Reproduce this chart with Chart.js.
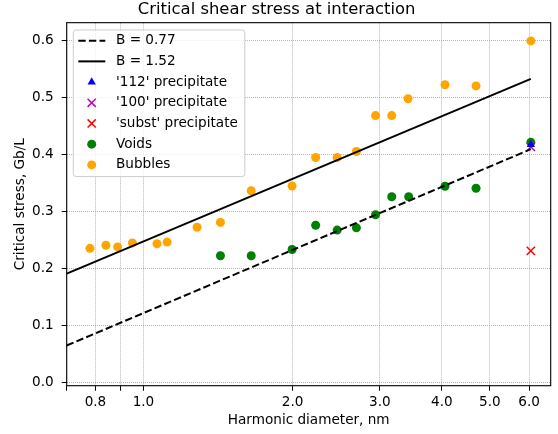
<!DOCTYPE html>
<html>
<head>
<meta charset="utf-8">
<script src="https://cdn.jsdelivr.net/npm/chart.js@4.4.1/dist/chart.umd.min.js"></script>
<style>
  html, body { margin: 0; padding: 0; background: #fff; }
  canvas { display: block; }
</style>
</head>
<body>
<canvas id="stressChart" width="558" height="434"></canvas>
<script>
// harmonic diameter (nm) and critical stress (Gb/L)
const bubbleDiam   = [0.78, 0.84, 0.887, 0.95, 1.065, 1.116, 1.283, 1.43, 1.65, 1.995, 2.226, 2.46, 2.69, 2.94, 3.17, 3.42, 4.06, 4.69, 6.05];
const bubbleStress = [0.236, 0.2415, 0.2385, 0.2455, 0.244, 0.247, 0.273, 0.2815, 0.337, 0.3455, 0.3955, 0.3955, 0.406, 0.469, 0.469, 0.4985, 0.523, 0.521, 0.600];

const voidDiam   = [1.43, 1.65, 1.995, 2.226, 2.46, 2.69, 2.94, 3.17, 3.43, 4.06, 4.69, 6.05];
const voidStress = [0.223, 0.223, 0.234, 0.2765, 0.268, 0.272, 0.295, 0.3265, 0.3265, 0.345, 0.3415, 0.422];

const p112Diam = [6.05],  p112Stress = [0.418];
const p100Diam = [6.05],  p100Stress = [0.414];
const substDiam = [6.05], substStress = [0.2315];

// fitted lines, B = 0.77 (dashed) and B = 1.52 (solid)
const lineDiam = [0.7, 6.05];
const dashedStress = [0.0655, 0.410];
const solidStress = [0.1917, 0.5335];

const xTicks = [0.7, 0.8, 0.9, 1, 2, 3, 4, 5, 6];
const xLabelled = [0.8, 1, 2, 3, 4, 5, 6];
const yTicks = [0, 0.1, 0.2, 0.3, 0.4, 0.5, 0.6];

const pts = (xs, ys) => xs.map((x, i) => ({ x: x, y: ys[i] }));

Chart.defaults.font.family = '"DejaVu Sans", sans-serif';
Chart.defaults.font.size = 13.6;
Chart.defaults.color = '#000';

// matplotlib-like box around the plot
const frame = {
    id: 'frame',
    beforeDatasetsDraw(chart) {
        const { ctx, chartArea: a } = chart;
        ctx.save();
        ctx.strokeStyle = '#000';
        ctx.lineWidth = 1.1;
        ctx.strokeRect(a.left, a.top, a.right - a.left, a.bottom - a.top);
        ctx.restore();
    }
};

// legend inside the axes, top left
const boxLegend = {
    id: 'boxLegend',
    afterDraw(chart) {
        const { ctx, chartArea: a } = chart;
        const sets = chart.data.datasets;
        const rowH = 20.7;
        const x0 = a.left + 6.6, y0 = a.top + 7.3;
        ctx.save();
        ctx.font = '13.6px "DejaVu Sans"';
        const textW = Math.max(...sets.map(d => ctx.measureText(d.label).width));
        const w = 42.7 + textW + 7;
        const h = rowH * (sets.length - 1) + 22.4;
        ctx.beginPath();
        if (ctx.roundRect) ctx.roundRect(x0, y0, w, h, 3); else ctx.rect(x0, y0, w, h);
        ctx.fillStyle = 'rgba(255,255,255,0.8)';
        ctx.fill();
        ctx.strokeStyle = '#cccccc';
        ctx.lineWidth = 1;
        ctx.stroke();

        sets.forEach((d, i) => {
            const cy = y0 + 10.7 + i * rowH;
            if (d.showLine) {
                ctx.save();
                ctx.strokeStyle = d.borderColor;
                ctx.lineWidth = d.borderWidth;
                ctx.setLineDash(d.borderDash || []);
                ctx.beginPath();
                ctx.moveTo(x0 + 5, cy);
                ctx.lineTo(x0 + 32, cy);
                ctx.stroke();
                ctx.restore();
            } else {
                ctx.save();
                ctx.fillStyle = d.backgroundColor;
                ctx.strokeStyle = d.borderColor;
                ctx.lineWidth = d.pointBorderWidth;
                Chart.helpers.drawPoint(ctx, {
                    pointStyle: d.pointStyle,
                    radius: d.pointRadius,
                    borderWidth: d.pointBorderWidth,
                    rotation: 0
                }, x0 + 18.4, cy);
                ctx.restore();
            }
            ctx.fillStyle = '#000';
            ctx.textBaseline = 'middle';
            ctx.textAlign = 'left';
            ctx.fillText(d.label, x0 + 42.7, cy);
        });
        ctx.restore();
    }
};

const gridStyle = {
    color: 'rgba(150,150,150,0.7)',
    lineWidth: 1,
    tickColor: '#000',
    tickLength: 5,
    tickWidth: 1,
    tickBorderDash: []
};

new Chart(document.getElementById('stressChart'), {
    type: 'scatter',
    data: {
        datasets: [
            {
                label: 'B = 0.77',
                data: pts(lineDiam, dashedStress),
                showLine: true,
                borderColor: '#000',
                backgroundColor: '#000',
                borderWidth: 2,
                borderDash: [7.4, 3.2],
                pointRadius: 0
            },
            {
                label: 'B = 1.52',
                data: pts(lineDiam, solidStress),
                showLine: true,
                borderColor: '#000',
                backgroundColor: '#000',
                borderWidth: 2,
                pointRadius: 0
            },
            {
                label: "'112' precipitate",
                data: pts(p112Diam, p112Stress),
                pointStyle: 'triangle',
                pointRadius: 4.8,
                pointBorderWidth: 0,
                backgroundColor: '#0000ff',
                borderColor: '#0000ff'
            },
            {
                label: "'100' precipitate",
                data: pts(p100Diam, p100Stress),
                pointStyle: 'crossRot',
                pointRadius: 5.8,
                pointBorderWidth: 1.5,
                backgroundColor: '#bf00bf',
                borderColor: '#bf00bf'
            },
            {
                label: "'subst' precipitate",
                data: pts(substDiam, substStress),
                pointStyle: 'crossRot',
                pointRadius: 5.8,
                pointBorderWidth: 1.5,
                backgroundColor: '#ff0000',
                borderColor: '#ff0000'
            },
            {
                label: 'Voids',
                data: pts(voidDiam, voidStress),
                pointStyle: 'circle',
                pointRadius: 4.5,
                pointBorderWidth: 0,
                backgroundColor: '#008000',
                borderColor: '#008000'
            },
            {
                label: 'Bubbles',
                data: pts(bubbleDiam, bubbleStress),
                pointStyle: 'circle',
                pointRadius: 4.5,
                pointBorderWidth: 0,
                backgroundColor: '#ffa500',
                borderColor: '#ffa500'
            }
        ]
    },
    options: {
        responsive: false,
        animation: false,
        devicePixelRatio: 1,
        layout: { padding: { left: 0, right: 4.7, top: 0, bottom: 0 } },
        plugins: {
            legend: { display: false },
            tooltip: { enabled: false },
            title: {
                display: true,
                text: 'Critical shear stress at interaction',
                font: { size: 16.4, weight: 'normal' },
                color: '#000',
                padding: { top: 0, bottom: 3 }
            }
        },
        scales: {
            x: {
                type: 'logarithmic',
                min: 0.7,
                max: 6.635,
                bounds: 'data',
                afterBuildTicks: axis => { axis.ticks = xTicks.map(v => ({ value: v })); },
                afterFit: axis => { axis.height = 48.3; },
                ticks: {
                    autoSkip: false,
                    maxRotation: 0,
                    padding: 4,
                    callback: v => xLabelled.includes(v) ? v.toFixed(1) : ''
                },
                grid: gridStyle,
                border: { display: false, dash: [1, 1] },
                title: {
                    display: true,
                    text: 'Harmonic diameter, nm',
                    padding: { top: 0, bottom: 5 }
                }
            },
            y: {
                min: -0.005,
                max: 0.632,
                afterBuildTicks: axis => { axis.ticks = yTicks.map(v => ({ value: v })); },
                afterFit: axis => { axis.width = 66.7; },
                ticks: {
                    padding: 8,
                    callback: v => v.toFixed(1)
                },
                grid: gridStyle,
                border: { display: false, dash: [1, 1] },
                title: {
                    display: true,
                    text: 'Critical stress, Gb/L',
                    padding: { top: 12, bottom: 0 }
                }
            }
        }
    },
    plugins: [frame, boxLegend]
});
</script>
</body>
</html>
